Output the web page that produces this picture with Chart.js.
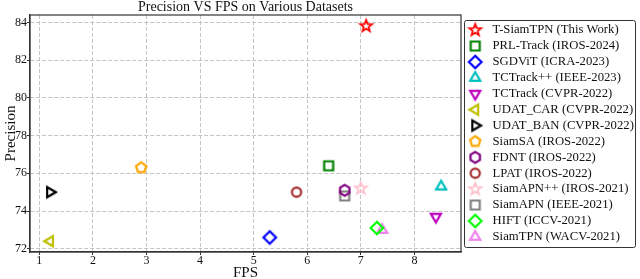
<!DOCTYPE html>
<html>
<head>
<meta charset="utf-8">
<script src="https://cdn.jsdelivr.net/npm/chart.js@4/dist/chart.umd.min.js"></script>
<style>
  html, body { margin: 0; padding: 0; background: #fff; }
  #wrap { width: 640px; height: 279px; }
</style>
</head>
<body>
<div id="wrap"><canvas id="fpsChart"></canvas></div>
<script>
// Trackers, one point each
const trackers = [
	"T-SiamTPN (This Work)", "PRL-Track (IROS-2024)", "SGDViT (ICRA-2023)",
	"TCTrack++ (IEEE-2023)", "TCTrack (CVPR-2022)", "UDAT_CAR (CVPR-2022)",
	"UDAT_BAN (CVPR-2022)", "SiamSA (IROS-2022)", "FDNT (IROS-2022)",
	"LPAT (IROS-2022)", "SiamAPN++ (IROS-2021)", "SiamAPN (IEEE-2021)",
	"HIFT (ICCV-2021)", "SiamTPN (WACV-2021)"
];
const fps = [7.1, 6.4, 5.3, 8.5, 8.4, 1.2, 1.2, 2.9, 6.7, 5.8, 7.0, 6.7, 7.3, 7.4];
const precision = [83.8, 76.4, 72.6, 75.3, 73.7, 72.4, 75.0, 76.3, 75.1, 75.0, 75.2, 74.8, 73.1, 73.0];
const colors = ["#ff0000", "#008000", "#0000ff", "#00bfbf", "#bf00bf", "#bfbf00", "#000000",
	"#ffa500", "#800080", "#a52a2a", "#ffc0cb", "#808080", "#00ff00", "#ee82ee"];
const shapes = ["star", "square", "diamond", "triUp", "triDown", "triLeft", "triRight",
	"pentagon", "hexagon", "circle", "star", "square", "diamond", "triUp"];

const xTicks = [1, 2, 3, 4, 5, 6, 7, 8];
const yTicks = [72, 74, 76, 78, 80, 82, 84];

const serif = "'Liberation Serif', 'DejaVu Serif', serif";

// regular polygon path helper
function polygon(ctx, c, r, n, startAngle) {
	ctx.beginPath();
	for (let i = 0; i < n; i++) {
		const a = startAngle + i * 2 * Math.PI / n;
		const px = c + r * Math.cos(a), py = c + r * Math.sin(a);
		if (i === 0) ctx.moveTo(px, py); else ctx.lineTo(px, py);
	}
	ctx.closePath();
}

// Build a hollow marker image like matplotlib's
function makeMarker(shape, color) {
	const size = 18, c = size / 2;
	const cv = document.createElement("canvas");
	cv.width = size; cv.height = size;
	const ctx = cv.getContext("2d");
	ctx.strokeStyle = color;
	ctx.fillStyle = color;
	ctx.lineWidth = 2.2;
	ctx.lineJoin = "miter";
	const up = -Math.PI / 2;
	switch (shape) {
		case "square":
			ctx.beginPath(); ctx.rect(c - 4.5, c - 4.5, 9, 9); break;
		case "diamond":
			polygon(ctx, c, 6.3, 4, up); break;
		case "circle":
			ctx.beginPath(); ctx.arc(c, c, 4.6, 0, 2 * Math.PI); break;
		case "triUp":
			polygon(ctx, c, 5.8, 3, up); break;
		case "triDown":
			polygon(ctx, c, 5.8, 3, Math.PI / 2); break;
		case "triLeft":
			polygon(ctx, c, 5.8, 3, Math.PI); break;
		case "triRight":
			polygon(ctx, c, 5.8, 3, 0); break;
		case "pentagon":
			polygon(ctx, c, 5.4, 5, up); break;
		case "hexagon":
			polygon(ctx, c, 5.4, 6, up); break;
		case "star":
			ctx.beginPath();
			for (let i = 0; i < 10; i++) {
				const r = i % 2 === 0 ? 6.2 : 2.6;
				const a = up + i * Math.PI / 5;
				const px = c + r * Math.cos(a), py = c + r * Math.sin(a);
				if (i === 0) ctx.moveTo(px, py); else ctx.lineTo(px, py);
			}
			ctx.closePath();
			ctx.lineWidth = 1.8;
			break;
	}
	ctx.stroke();
	return cv;
}

const datasets = trackers.map((name, i) => ({
	label: name,
	data: [{ x: fps[i], y: precision[i] }],
	pointStyle: makeMarker(shapes[i], colors[i]),
	backgroundColor: colors[i],
	borderColor: colors[i],
}));

// Frame around plot area and box around legend
const framePlugin = {
	id: "frame",
	afterDraw(chart) {
		const { ctx, chartArea: a, legend } = chart;
		ctx.save();
		ctx.strokeStyle = "#333";
		ctx.lineWidth = 1.2;
		ctx.strokeRect(a.left, a.top, a.right - a.left, a.bottom - a.top);
		if (legend && legend.legendHitBoxes.length) {
			const hb = legend.legendHitBoxes;
			const l = Math.min(...hb.map(h => h.left));
			const t = hb[0].top - 4;
			const r = Math.max(...hb.map(h => h.left + h.width)) + 1.5;
			const b = hb[hb.length - 1].top + hb[hb.length - 1].height + 4;
			ctx.lineWidth = 1;
			ctx.beginPath();
			ctx.roundRect(Math.round(l) + 0.5, Math.round(t) + 0.5, Math.round(r - l), Math.round(b - t), 2);
			ctx.stroke();
		}
		ctx.restore();
	},
};

new Chart(document.getElementById("fpsChart"), {
	type: "scatter",
	data: { datasets },
	plugins: [framePlugin],
	options: {
		responsive: true,
		maintainAspectRatio: false,
		animation: false,
		layout: { padding: 0 },
		elements: { point: { radius: 6, hoverRadius: 6 } },
		plugins: {
			tooltip: { enabled: false },
			title: {
				display: true,
				text: "Precision VS FPS on Various Datasets",
				fullSize: false,
				color: "#111",
				font: { family: serif, size: 14, weight: "normal", lineHeight: 1 },
				padding: { top: 0, bottom: 1 },
			},
			legend: {
				position: "right",
				align: "center",
				fullSize: false,
				maxWidth: 179, // tighter than chart.js would pick on its own
				labels: {
					usePointStyle: true,
					pointStyleWidth: 22,
					color: "#111",
					font: { family: serif, size: 12.7 },
					padding: 3.2,
				},
			},
		},
		scales: {
			x: {
				type: "linear",
				min: 0.826,
				max: 8.87,
				afterBuildTicks: (axis) => { axis.ticks = xTicks.map(v => ({ value: v })); },
				ticks: { color: "#111", font: { family: serif, size: 12, lineHeight: 1 }, padding: 0 },
				grid: { color: "#c4c4c4", tickColor: "#333", tickLength: 3, tickBorderDash: [] },
				border: { color: "#333", width: 1.2, dash: [4, 2] },
				title: { display: true, text: "FPS", color: "#111", font: { family: serif, size: 15, lineHeight: 0.8 }, padding: { top: 0, bottom: 0 } },
			},
			y: {
				type: "linear",
				min: 71.83,
				max: 84.39,
				afterBuildTicks: (axis) => { axis.ticks = yTicks.map(v => ({ value: v })); },
				ticks: { color: "#111", font: { family: serif, size: 12, lineHeight: 1 }, padding: 0 },
				grid: { color: "#c4c4c4", tickColor: "#333", tickLength: 3, tickBorderDash: [] },
				border: { color: "#333", width: 1.2, dash: [4, 2] },
				// label sits a bit over the tick labels, like the original
				title: { display: true, text: "Precision", color: "#111", font: { family: serif, size: 15, lineHeight: 1 }, padding: { top: 4, bottom: -4 } },
			},
		},
	},
});
</script>
</body>
</html>
